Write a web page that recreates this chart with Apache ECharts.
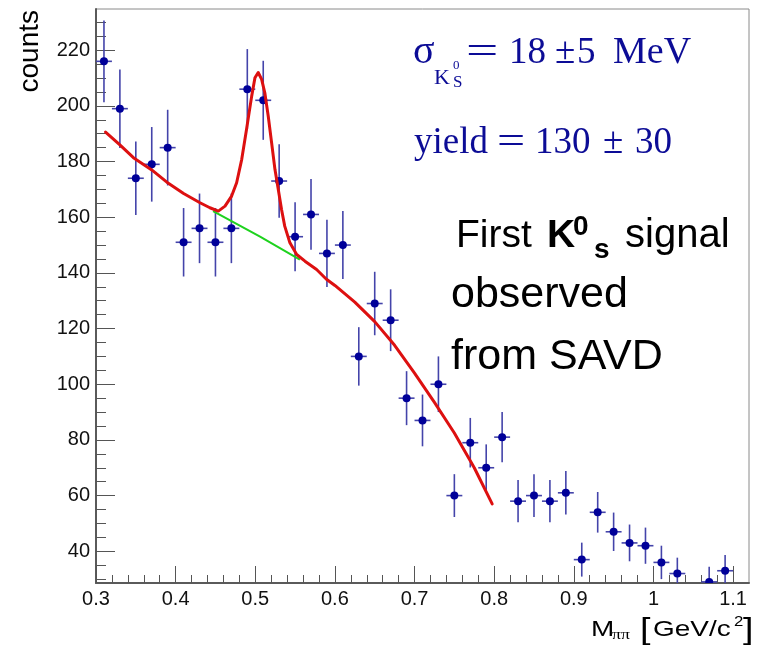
<!DOCTYPE html>
<html>
<head>
<meta charset="utf-8">
<script src="https://cdn.jsdelivr.net/npm/echarts@6/dist/echarts.min.js"></script>
<style>
html,body{margin:0;padding:0;background:#fff;}
#chart{width:758px;height:652px;}
</style>
</head>
<body>
<div id="chart"></div>
<script>
// ---- data ----
const binCenters = [0.31,0.33,0.35,0.37,0.39,0.41,0.43,0.45,0.47,0.49,0.51,0.53,0.55,0.57,0.59,0.61,0.63,0.65,0.67,0.69,0.71,0.73,0.75,0.77,0.79,0.81,0.83,0.85,0.87,0.89,0.91,0.93,0.95,0.97,0.99,1.01,1.03,1.07,1.09];
const counts = [216,199,174,179,185,151,156,151,156,206,202,173,153,161,147,150,110,129,123,95,87,100,60,79,70,81,58,60,58,61,37,54,47,43,42,36,32,29,33];
const countErrors = [14.7,14.1,13.2,13.4,13.6,12.3,12.5,12.3,12.5,14.4,14.2,13.2,12.4,12.7,12.1,12.2,10.5,11.4,11.1,9.7,9.3,10.0,7.7,8.9,8.4,9.0,7.6,7.7,7.6,7.8,6.1,7.3,6.9,6.6,6.5,6.0,5.7,5.4,5.7];
const binHalfWidth = 0.01;

// total fit (signal + background)
const fitX = [0.312,0.33,0.347,0.37,0.389,0.41,0.4306,0.443,0.4536,0.462,0.4703,0.4766,0.483,0.489,0.4955,0.4996,0.5037,0.508,0.512,0.5163,0.5205,0.5247,0.5289,0.533,0.537,0.5435,0.552,0.5624,0.577,0.589,0.6,0.625,0.65,0.675,0.7,0.725,0.75,0.775,0.7975];
const fitY = [190.6,186.0,181.4,177.0,172.6,168.5,165.2,163.4,162.2,164.0,167.6,172.4,180.8,191.5,203.5,210.1,212.0,209.5,204.7,196.3,186.8,177.2,170.0,162.8,156.8,150.8,146.6,144.2,141.2,137.8,135.5,129.5,122.5,114.0,104.0,93.5,82.5,70.0,57.0];

// background component
const bkgX = [0.447,0.506,0.556];
const bkgY = [162.2,153.0,144.8];

const xTickValues = [0.3,0.4,0.5,0.6,0.7,0.8,0.9,1.0,1.1];
const yTickValues = [40,60,80,100,120,140,160,180,200,220];

// ---- chart ----
const SANS = '"Liberation Sans", Arial, Helvetica, sans-serif';
const SERIF = '"Liberation Serif", "Times New Roman", serif';
const BLUE = '#0c0c96';

function T(text, x, baseline, size, family, color, weight, sx) {
  return {
    type: 'text', x: x, y: baseline - 0.35 * size, z: 100,
    scaleX: sx || 1,
    style: {
      text: text, fill: color,
      font: (weight || 'normal') + ' ' + size + 'px ' + family,
      align: 'left', verticalAlign: 'middle',
      textAlign: 'left', textVerticalAlign: 'middle'
    }
  };
}

const pointData = binCenters.map((x, i) => [x, counts[i], countErrors[i]]);
const fitData = fitX.map((x, i) => [x, fitY[i]]);
const bkgData = bkgX.map((x, i) => [x, bkgY[i]]);

const chart = echarts.init(document.getElementById('chart'), null, {renderer: 'canvas'});
chart.setOption({
  animation: false,
  backgroundColor: '#fff',
  grid: {left: 96, right: 9, top: 9, bottom: 69, show: true, borderColor: '#8a8a8a', borderWidth: 1, backgroundColor: 'transparent'},
  xAxis: {
    type: 'value', min: 0.3, max: 1.12, interval: 0.1,
    axisLine: {show: true, onZero: false, lineStyle: {color: '#5a5a5a', width: 2}},
    axisTick: {show: true, inside: true, length: 17, customValues: xTickValues, lineStyle: {color: '#555', width: 1}},
    minorTick: {show: true, splitNumber: 5, length: 8, lineStyle: {color: '#555', width: 1}},
    splitLine: {show: false},
    axisLabel: {customValues: xTickValues, fontSize: 20, color: '#111', margin: 6, fontFamily: SANS,
      formatter: v => String(Math.round(v * 10) / 10)}
  },
  yAxis: {
    type: 'value', min: 28.6, max: 234.8, splitNumber: 10,
    axisLine: {show: true, onZero: false, lineStyle: {color: '#5a5a5a', width: 2}},
    axisTick: {show: true, inside: true, length: 19, customValues: yTickValues, lineStyle: {color: '#555', width: 1}},
    minorTick: {show: true, splitNumber: 4, length: 10, lineStyle: {color: '#555', width: 1}},
    splitLine: {show: false},
    axisLabel: {customValues: yTickValues, fontSize: 20, color: '#111', margin: 6, fontFamily: SANS}
  },
  series: [
    {
      type: 'custom', name: 'data', clip: true, z: 2,
      encode: {x: 0, y: 1},
      data: pointData,
      renderItem: function (params, api) {
        const x = api.value(0), y = api.value(1), e = api.value(2);
        const c = api.coord([x, y]);
        const t = api.coord([x, y + e]);
        const b = api.coord([x, y - e]);
        const l = api.coord([x - binHalfWidth, y]);
        const r = api.coord([x + binHalfWidth, y]);
        const s = {stroke: '#4444aa', lineWidth: 1.6};
        return {type: 'group', children: [
          {type: 'line', shape: {x1: t[0], y1: t[1], x2: b[0], y2: b[1]}, style: s},
          {type: 'line', shape: {x1: l[0], y1: l[1], x2: r[0], y2: r[1]}, style: s},
          {type: 'circle', shape: {cx: c[0], cy: c[1], r: 4}, style: {fill: '#000099'}}
        ]};
      }
    },
    {
      type: 'line', name: 'background', data: bkgData, z: 3,
      showSymbol: false, symbol: 'none',
      lineStyle: {color: '#1ed21e', width: 2}
    },
    {
      type: 'line', name: 'fit', data: fitData, z: 4,
      showSymbol: false, symbol: 'none', smooth: false,
      lineStyle: {color: '#dd1010', width: 3, join: 'round', cap: 'round'}
    }
  ],
  graphic: [
    // y-axis title
    {type: 'text', x: 30, y: 10, rotation: Math.PI / 2, z: 100,
      style: {text: 'counts', fill: '#000', font: '28px ' + SANS, align: 'right', verticalAlign: 'middle', textAlign: 'right', textVerticalAlign: 'middle'}},
    // x-axis title: M_{ππ} [GeV/c^2]
    T('M', 591, 638, 22, SANS, '#000', 'normal', 1.27),
    T('ππ', 612, 640, 14, SERIF, '#000', 'normal', 1.27),
    T('[', 640, 641, 29, SANS, '#000', 'normal', 1.3),
    T('GeV/c', 653, 638, 22, SANS, '#000', 'normal', 1.27),
    T('2', 734, 627, 14, SANS, '#000', 'normal', 1.2),
    T(']', 743, 641, 29, SANS, '#000', 'normal', 1.3),
    // sigma line
    T('σ', 413, 66, 40, SERIF, BLUE),
    T('K', 434, 86, 22, SERIF, BLUE),
    T('0', 453, 70, 13, SERIF, BLUE),
    T('S', 453, 88, 17, SERIF, BLUE),
    T('=', 466, 66, 37, SERIF, BLUE, 'normal', 1.55),
    T('18', 509, 66, 37, SERIF, BLUE),
    T('±', 555, 66, 37, SERIF, BLUE),
    T('5', 577, 66, 37, SERIF, BLUE),
    T('MeV', 613, 66, 38, SERIF, BLUE),
    // yield line
    T('yield', 414, 156, 37, SERIF, BLUE),
    T('=', 497, 156, 37, SERIF, BLUE, 'normal', 1.35),
    T('130', 535, 156, 37, SERIF, BLUE),
    T('±', 603, 156, 37, SERIF, BLUE),
    T('30', 635, 156, 37, SERIF, BLUE),
    // caption
    T('First', 456, 250, 39, SANS, '#000'),
    T('K', 547, 250, 39, SANS, '#000', 'bold'),
    T('0', 573, 237, 28, SANS, '#000', 'bold'),
    T('s', 594, 260, 28, SANS, '#000', 'bold'),
    T('signal', 625, 250, 40, SANS, '#000'),
    T('observed', 451, 310, 43, SANS, '#000'),
    T('from SAVD', 451, 372, 43, SANS, '#000')
  ]
});
</script>
</body>
</html>
